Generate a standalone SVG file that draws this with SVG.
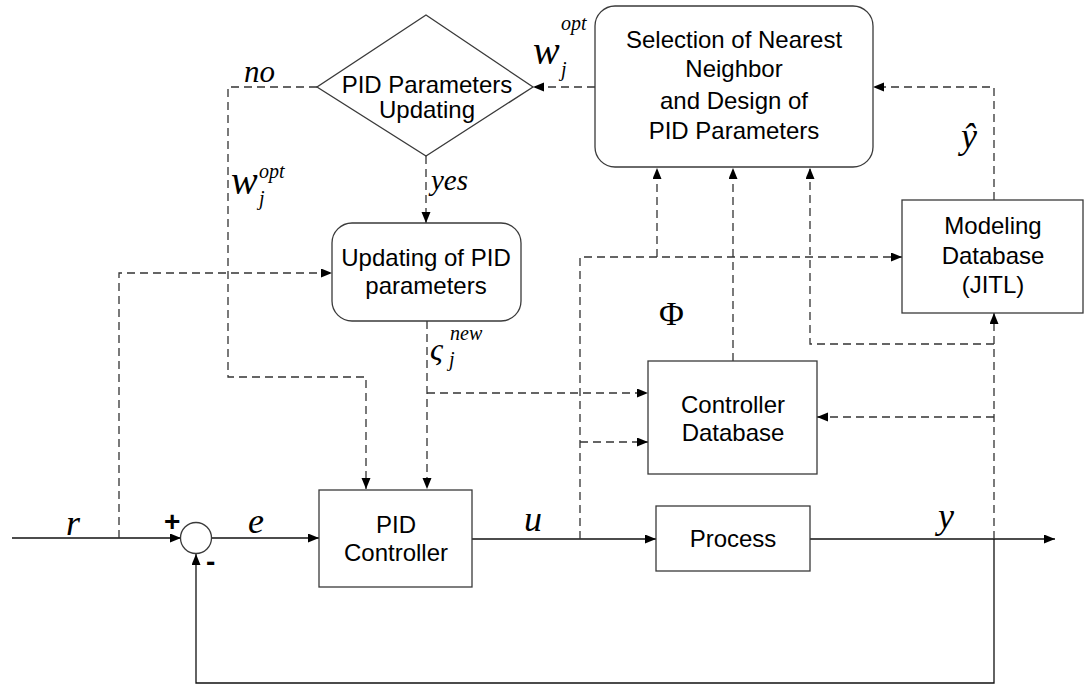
<svg xmlns="http://www.w3.org/2000/svg" width="1085" height="686" viewBox="0 0 1085 686">
  <defs>
    <marker id="arrow" markerUnits="userSpaceOnUse" markerWidth="12" markerHeight="10" refX="11" refY="4.5" orient="auto">
      <path d="M0,0 L11,4.5 L0,9 z" fill="#000"/>
    </marker>
    <style>
      .box { fill: #fff; stroke: #3a3a3a; stroke-width: 1.3; }
      .lbl { font-family: "Liberation Sans", Arial, sans-serif; font-size: 24px; fill: #000; text-anchor: middle; }
      .math { font-family: "Liberation Serif", "Times New Roman", serif; font-style: italic; fill: #000; }
      .sign { font-family: "Liberation Sans", Arial, sans-serif; font-weight: bold; font-size: 28px; fill: #000; }
      .solid { fill: none; stroke: #111; stroke-width: 1.3; }
      .dash { fill: none; stroke: #333; stroke-width: 1.3; stroke-dasharray: 8 5; }
    </style>
  </defs>
  <rect width="1085" height="686" fill="#fff"/>

  <!-- connectors -->
  <g id="connectors">
    <!-- main signal path -->
    <path class="solid" d="M12,538 H181" marker-end="url(#arrow)"/>
    <path class="solid" d="M211,538 H319" marker-end="url(#arrow)"/>
    <path class="solid" d="M472,539 H656" marker-end="url(#arrow)"/>
    <path class="solid" d="M810,539 H1055" marker-end="url(#arrow)"/>
    <path class="solid" d="M994,539 V683 H196 V554" marker-end="url(#arrow)"/>

    <!-- tuning loop -->
    <path class="dash" d="M595,87 H533" marker-end="url(#arrow)"/>
    <path class="dash" d="M317,87 H228 V377 H366 V489" marker-end="url(#arrow)"/>
    <path class="dash" d="M426,156 V223" marker-end="url(#arrow)"/>
    <path class="dash" d="M119,538 V273 H332" marker-end="url(#arrow)"/>
    <path class="dash" d="M427,321 V489" marker-end="url(#arrow)"/>
    <path class="dash" d="M427,393 H648" marker-end="url(#arrow)"/>
    <path class="dash" d="M580,539 V257 H902" marker-end="url(#arrow)"/>
    <path class="dash" d="M657,257 V168" marker-end="url(#arrow)"/>
    <path class="dash" d="M580,442 H648" marker-end="url(#arrow)"/>
    <path class="dash" d="M733,361 V168" marker-end="url(#arrow)"/>
    <path class="dash" d="M994,539 V313" marker-end="url(#arrow)"/>
    <path class="dash" d="M994,417 H817" marker-end="url(#arrow)"/>
    <path class="dash" d="M994,344 H810 V168" marker-end="url(#arrow)"/>
    <path class="dash" d="M994,200 V87 H873" marker-end="url(#arrow)"/>
  </g>

  <!-- nodes -->
  <g id="selection">
    <rect class="box" x="595" y="6" width="278" height="161" rx="20"/>
    <text class="lbl" x="734" y="48">Selection of Nearest</text>
    <text class="lbl" x="734" y="77">Neighbor</text>
    <text class="lbl" x="734" y="109">and Design of</text>
    <text class="lbl" x="734" y="139">PID Parameters</text>
  </g>

  <g id="decision">
    <polygon class="box" points="426,15 533,87 426,156 317,87"/>
    <text class="lbl" x="427" y="93">PID Parameters</text>
    <text class="lbl" x="427" y="118">Updating</text>
  </g>

  <g id="updating">
    <rect class="box" x="332" y="223" width="189" height="98" rx="20"/>
    <text class="lbl" x="426" y="266">Updating of PID</text>
    <text class="lbl" x="426" y="294">parameters</text>
  </g>

  <g id="modeling-db">
    <rect class="box" x="902" y="200" width="181" height="113"/>
    <text class="lbl" x="993" y="234">Modeling</text>
    <text class="lbl" x="993" y="264">Database</text>
    <text class="lbl" x="993" y="293">(JITL)</text>
  </g>

  <g id="controller-db">
    <rect class="box" x="648" y="361" width="169" height="113"/>
    <text class="lbl" x="733" y="413">Controller</text>
    <text class="lbl" x="733" y="441">Database</text>
  </g>

  <g id="pid">
    <rect class="box" x="319" y="490" width="153" height="97"/>
    <text class="lbl" x="396" y="533">PID</text>
    <text class="lbl" x="396" y="561">Controller</text>
  </g>

  <g id="process">
    <rect class="box" x="656" y="506" width="154" height="65"/>
    <text class="lbl" x="733" y="547">Process</text>
  </g>

  <g id="sum">
    <circle class="box" cx="196" cy="538" r="15.5"/>
    <text class="sign" x="164" y="531">+</text>
    <text class="sign" x="206" y="571">-</text>
  </g>

  <!-- signal labels -->
  <g id="labels">
    <text class="math" x="66" y="535" font-size="36">r</text>
    <text class="math" x="248" y="533" font-size="36">e</text>
    <text class="math" x="524" y="531" font-size="36">u</text>
    <text class="math" x="938" y="528" font-size="36">y</text>
    <text class="math" x="961" y="148" font-size="36">ŷ</text>
    <text x="659" y="325" font-family="Liberation Serif, 'Times New Roman', serif" font-size="34" fill="#000">Φ</text>
    <text class="math" x="244" y="82" font-size="31">no</text>
    <text class="math" x="431" y="190" font-size="29">yes</text>
    <!-- w_j^opt near the decision input -->
    <text class="math" x="533" y="64" font-size="40">w</text>
    <text class="math" x="561" y="30" font-size="20">opt</text>
    <text class="math" x="561" y="76" font-size="20">j</text>
    <!-- w_j^opt on the "no" branch -->
    <text class="math" x="231" y="194" font-size="40">w</text>
    <text class="math" x="259" y="178" font-size="20">opt</text>
    <text class="math" x="259" y="205" font-size="20">j</text>
    <!-- varsigma_j^new -->
    <text class="math" x="430" y="360" font-size="32">ς</text>
    <text class="math" x="450" y="340" font-size="20">new</text>
    <text class="math" x="449" y="366" font-size="20">j</text>
  </g>
</svg>
